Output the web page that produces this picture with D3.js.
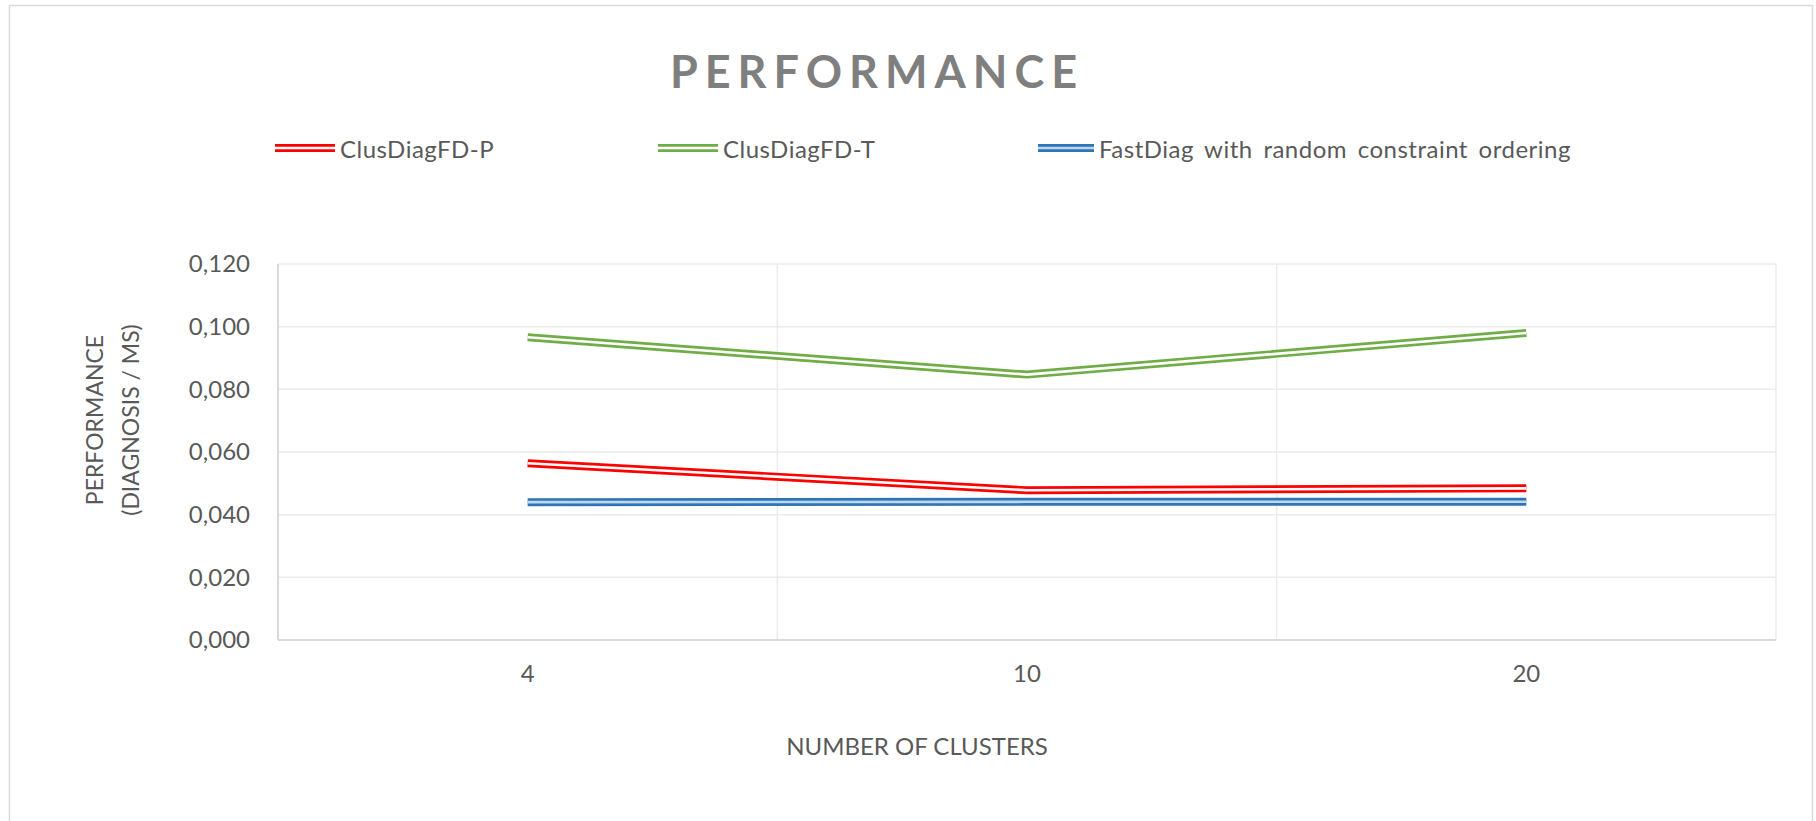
<!DOCTYPE html>
<html>
<head>
<meta charset="utf-8">
<script src="https://cdn.jsdelivr.net/npm/d3@7/dist/d3.min.js"></script>
<style>
  html, body { margin: 0; padding: 0; background: #ffffff; }
  svg { display: block; }
  text { font-family: Lato, "Open Sans", sans-serif; }
</style>
</head>
<body>
<svg id="chart" width="1816" height="821"></svg>
<script>
// Cluster counts on the x axis
const clusters = ["4", "10", "20"];

// Performance (diagnoses per ms) for each approach
const clusDiagP = [0.0564, 0.0478, 0.0484];
const clusDiagT = [0.0966, 0.0847, 0.0980];
const fastDiag  = [0.0440, 0.0441, 0.0441];

const seriesNames  = ["ClusDiagFD-P", "ClusDiagFD-T", "FastDiag with random constraint ordering"];
const seriesColors = ["#ff0000", "#70ad47", "#2e75b6"];
const seriesGaps   = ["#ffffff", "#ffffff", "#bdd7ee"];

const yTicks = [0, 0.02, 0.04, 0.06, 0.08, 0.10, 0.12];

const series = [clusDiagP, clusDiagT, fastDiag].map((values, i) => ({
  name: seriesNames[i], color: seriesColors[i], gap: seriesGaps[i], values
}));

const svg = d3.select("#chart");

// Chart frame
svg.append("rect")
  .attr("x", 9.5).attr("y", 5.5)
  .attr("width", 1803).attr("height", 840)
  .attr("fill", "#ffffff")
  .attr("stroke", "#d9d9d9").attr("stroke-width", 1.5);

const plot = { left: 278, right: 1776, top: 264, bottom: 640 };

const x = d3.scaleBand().domain(clusters).range([plot.left, plot.right]);
const y = d3.scaleLinear().domain([0, 0.12]).range([plot.bottom, plot.top]);

const fmt = d3.formatLocale({ decimal: ",", thousands: ".", grouping: [3], currency: ["", ""] }).format(".3f");

// Horizontal gridlines
svg.append("g")
  .selectAll("line").data(yTicks.slice(1)).join("line")
  .attr("x1", plot.left).attr("x2", plot.right)
  .attr("y1", d => y(d)).attr("y2", d => y(d))
  .attr("stroke", "#ebebeb").attr("stroke-width", 1.5);

// Vertical gridlines at category boundaries
const bounds = clusters.slice(1).map(c => x(c)).concat([plot.right]);
svg.append("g")
  .selectAll("line").data(bounds).join("line")
  .attr("x1", d => d).attr("x2", d => d)
  .attr("y1", plot.top).attr("y2", plot.bottom)
  .attr("stroke", "#ebebeb").attr("stroke-width", 1.5);

// Axis lines
svg.append("line")
  .attr("x1", plot.left).attr("x2", plot.left)
  .attr("y1", plot.top).attr("y2", plot.bottom)
  .attr("stroke", "#d9d9d9").attr("stroke-width", 2);
svg.append("line")
  .attr("x1", plot.left).attr("x2", plot.right)
  .attr("y1", plot.bottom).attr("y2", plot.bottom)
  .attr("stroke", "#d9d9d9").attr("stroke-width", 2);

// Y axis tick labels
const yAxis = d3.axisLeft(y).tickValues(yTicks).tickFormat(fmt).tickSize(0).tickPadding(28);
const gy = svg.append("g").attr("transform", `translate(${plot.left},0)`).call(yAxis);
gy.select(".domain").remove();
gy.selectAll("text")
  .attr("fill", "#595959").attr("font-size", 24)
  .attr("font-family", "Lato, sans-serif");

// X axis tick labels
const xAxis = d3.axisBottom(x).tickSize(0).tickPadding(25);
const gx = svg.append("g").attr("transform", `translate(0,${plot.bottom})`).call(xAxis);
gx.select(".domain").remove();
gx.selectAll("text")
  .attr("fill", "#595959").attr("font-size", 24)
  .attr("font-family", "Lato, sans-serif");

// Series lines, drawn as double strokes
const line = d3.line()
  .x((d, i) => x(clusters[i]) + x.bandwidth() / 2)
  .y(d => y(d));

const gLines = svg.append("g");
series.forEach(s => {
  gLines.append("path").datum(s.values)
    .attr("d", line).attr("fill", "none")
    .attr("stroke", s.color).attr("stroke-width", 8)
    .attr("stroke-linejoin", "round");
  gLines.append("path").datum(s.values)
    .attr("d", line).attr("fill", "none")
    .attr("stroke", s.gap).attr("stroke-width", 2.6)
    .attr("stroke-linejoin", "round");
});

// Title
svg.append("text")
  .attr("x", 877).attr("y", 71)
  .attr("text-anchor", "middle").attr("dominant-baseline", "central")
  .attr("font-size", 45).attr("font-weight", "bold")
  .attr("letter-spacing", 7)
  .attr("fill", "#7f7f7f")
  .text("PERFORMANCE");

// Legend
const legendItems = [
  { x: 275, w: 60 },
  { x: 658, w: 60 },
  { x: 1038, w: 56 }
];
const gLegend = svg.append("g");
series.forEach((s, i) => {
  const it = legendItems[i];
  gLegend.append("line")
    .attr("x1", it.x).attr("x2", it.x + it.w)
    .attr("y1", 148).attr("y2", 148)
    .attr("stroke", s.color).attr("stroke-width", 8);
  gLegend.append("line")
    .attr("x1", it.x).attr("x2", it.x + it.w)
    .attr("y1", 148).attr("y2", 148)
    .attr("stroke", s.gap).attr("stroke-width", 2.6);
  gLegend.append("text")
    .attr("x", it.x + it.w + 5).attr("y", 148)
    .attr("dominant-baseline", "central")
    .attr("font-size", 24).attr("letter-spacing", 0.5).attr("word-spacing", 4)
    .attr("fill", "#595959")
    .text(s.name);
});

// Axis titles
svg.append("text")
  .attr("x", 917).attr("y", 745)
  .attr("text-anchor", "middle").attr("dominant-baseline", "central")
  .attr("font-size", 24).attr("fill", "#595959")
  .text("NUMBER OF CLUSTERS");

const yTitle = svg.append("text")
  .attr("transform", "translate(95,420) rotate(-90)")
  .attr("text-anchor", "middle")
  .attr("font-size", 23).attr("fill", "#595959");
yTitle.append("tspan").attr("x", 0).attr("dy", "0.35em").text("PERFORMANCE");
yTitle.append("tspan").attr("x", 0).attr("dy", "1.55em").text("(DIAGNOSIS / MS)");
</script>
</body>
</html>
